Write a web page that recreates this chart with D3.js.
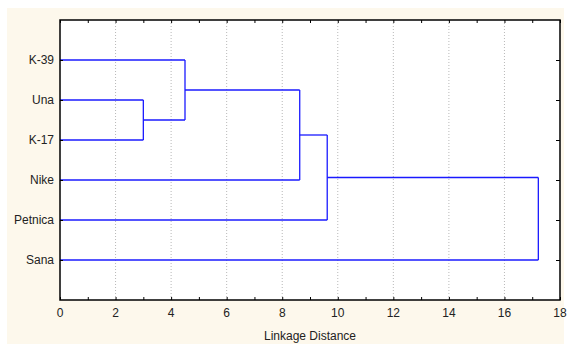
<!DOCTYPE html>
<html lang="en">
<head>
  <meta charset="UTF-8" />
  <title>Tree Diagram</title>
  <script src="https://d3js.org/d3.v7.min.js"></script>
  <style>
    body { margin: 0; background: #fff; }
    svg { display: block; font-family: "Liberation Sans", Arial, sans-serif; }
  </style>
</head>
<body>
  <div id="chart"></div>
  <script>
    // leaves, top to bottom
    const leaves = ["K-39", "Una", "K-17", "Nike", "Petnica", "Sana"];
    // merges: [left member, right member], in joining order
    const mergeA = ["Una", "K-17"];
    const mergeB = ["K-39", "c1"];
    const mergeC = ["c2", "Nike"];
    const mergeD = ["c3", "Petnica"];
    const mergeE = ["c4", "Sana"];
    const mergeDist = [3.0, 4.5, 8.63, 9.62, 17.22];
    const xTicks = [0, 2, 4, 6, 8, 10, 12, 14, 16, 18];

    const W = 568, H = 344;
    const plot = { left: 60, top: 20, right: 560, bottom: 300 };

    const svg = d3.select("#chart").append("svg")
      .attr("width", W).attr("height", H);

    svg.append("rect")
      .attr("x", 7).attr("y", 8)
      .attr("width", 557).attr("height", 336)
      .attr("fill", "#fdf8ec");

    svg.append("rect")
      .attr("x", plot.left).attr("y", plot.top)
      .attr("width", plot.right - plot.left).attr("height", plot.bottom - plot.top)
      .attr("fill", "#fff");

    const x = d3.scaleLinear().domain([0, 18]).range([plot.left, plot.right]);
    const y = d3.scaleLinear().domain([0, leaves.length + 1]).range([plot.top, plot.bottom]);

    // grid
    svg.append("g")
      .selectAll("line")
      .data(xTicks.slice(1, -1))
      .join("line")
      .attr("x1", d => x(d)).attr("x2", d => x(d))
      .attr("y1", plot.top).attr("y2", plot.bottom)
      .attr("stroke", "#b8b8b8")
      .attr("stroke-width", 1)
      .attr("stroke-dasharray", "1,2");

    // tree
    const pos = {};
    leaves.forEach((l, i) => pos[l] = { y: y(i + 1), d: 0 });
    const merges = [mergeA, mergeB, mergeC, mergeD, mergeE];
    merges.forEach((m, i) => {
      const a = pos[m[0]], b = pos[m[1]];
      pos["c" + (i + 1)] = { y: (a.y + b.y) / 2, d: mergeDist[i], a: a, b: b };
    });

    const g = svg.append("g")
      .attr("fill", "none")
      .attr("stroke", "#1a1aff")
      .attr("stroke-width", 1.3);

    merges.forEach((m, i) => {
      const node = pos["c" + (i + 1)];
      [node.a, node.b].forEach(ch => {
        g.append("line")
          .attr("x1", x(ch.d)).attr("x2", x(node.d))
          .attr("y1", ch.y).attr("y2", ch.y);
      });
      g.append("line")
        .attr("x1", x(node.d)).attr("x2", x(node.d))
        .attr("y1", node.a.y).attr("y2", node.b.y);
    });

    // axes (ticks pointing inward)
    const minor = d3.range(0, 19);
    const rows = d3.range(1, leaves.length + 1);
    const axes = [
      svg.append("g").attr("transform", `translate(0,${plot.bottom})`)
        .call(d3.axisBottom(x).tickValues(minor).tickSize(-3).tickFormat("")),
      svg.append("g").attr("transform", `translate(0,${plot.top})`)
        .call(d3.axisTop(x).tickValues(minor).tickSize(-3).tickFormat("")),
      svg.append("g").attr("transform", `translate(${plot.left},0)`)
        .call(d3.axisLeft(y).tickValues(rows).tickSize(-3).tickFormat("")),
      svg.append("g").attr("transform", `translate(${plot.right},0)`)
        .call(d3.axisRight(y).tickValues(rows).tickSize(-4).tickFormat(""))
    ];
    axes.forEach(a => {
      a.select(".domain").remove();
      a.selectAll(".tick line").attr("stroke", "#000");
    });

    svg.append("rect")
      .attr("x", plot.left).attr("y", plot.top)
      .attr("width", plot.right - plot.left).attr("height", plot.bottom - plot.top)
      .attr("fill", "none")
      .attr("stroke", "#000")
      .attr("stroke-width", 1.5);

    // labels
    svg.append("g")
      .selectAll("text")
      .data(xTicks)
      .join("text")
      .attr("x", d => x(d))
      .attr("y", 317)
      .attr("text-anchor", "middle")
      .attr("font-size", 12)
      .attr("fill", "#222")
      .text(d => d);

    svg.append("g")
      .selectAll("text")
      .data(leaves)
      .join("text")
      .attr("x", plot.left - 6)
      .attr("y", (d, i) => y(i + 1) + 4)
      .attr("text-anchor", "end")
      .attr("font-size", 12)
      .attr("fill", "#222")
      .text(d => d);

    svg.append("text")
      .attr("x", 310)
      .attr("y", 340)
      .attr("text-anchor", "middle")
      .attr("font-size", 12)
      .attr("fill", "#222")
      .text("Linkage Distance");
  </script>
</body>
</html>
